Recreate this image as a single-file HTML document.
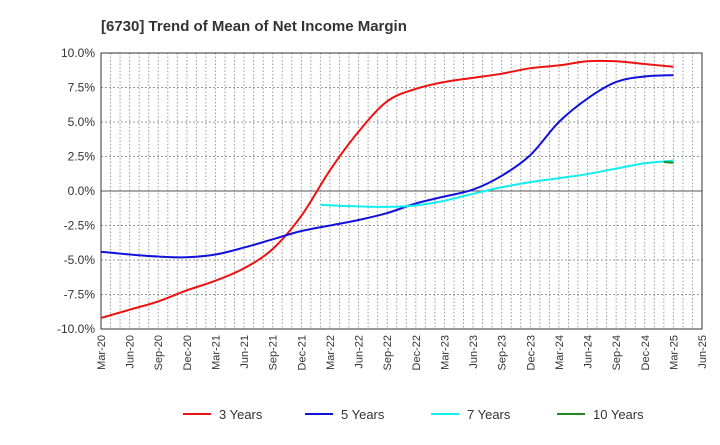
<!DOCTYPE html>
<html><head><meta charset="utf-8"><style>
body{margin:0;background:#fff;font-family:"Liberation Sans",sans-serif}
</style></head><body>
<svg width="720" height="440" xmlns="http://www.w3.org/2000/svg">
<text x="101" y="31" font-size="15" font-weight="bold" fill="#333">[6730]  Trend of Mean of Net Income Margin</text>
<g id="grid"></g><g id="axes"></g><g id="series"></g><g id="legend"></g>
</svg>
<script>
const xLabels=["Mar-20","Jun-20","Sep-20","Dec-20","Mar-21","Jun-21","Sep-21","Dec-21","Mar-22","Jun-22","Sep-22","Dec-22","Mar-23","Jun-23","Sep-23","Dec-23","Mar-24","Jun-24","Sep-24","Dec-24","Mar-25","Jun-25"];
const yTicks=[10,7.5,5,2.5,0,-2.5,-5,-7.5,-10];
const s3=[-9.2,-8.6,-8.0,-7.2,-6.5,-5.6,-4.2,-1.8,1.5,4.3,6.5,7.4,7.9,8.2,8.5,8.9,9.1,9.4,9.4,9.2,9.0];
const s5=[-4.4,-4.6,-4.75,-4.8,-4.6,-4.1,-3.5,-2.9,-2.5,-2.1,-1.6,-0.9,-0.4,0.1,1.1,2.6,5.0,6.7,7.9,8.3,8.4];
const s7=[-1.0,-1.1,-1.15,-1.1,-0.8,-0.3,0.2,0.6,0.9,1.2,1.6,2.0,2.2];
const s7StartMonth=23;
const s7EndMonth=60;
const s10=[2.1,2.05];
const s10StartMonth=59;
const L=101,R=702,T=53,B=329,months=63;
const xm=m=>L+(R-L)*m/months;
const y=v=>T+(B-T)*(10-v)/20;
const NS="http://www.w3.org/2000/svg";
function mk(p,t,a){const e=document.createElementNS(NS,t);for(const k in a)e.setAttribute(k,a[k]);document.getElementById(p).appendChild(e);return e;}
for(let m=1;m<months;m++){const l=mk('grid','line',{x1:xm(m),x2:xm(m),y1:T,y2:B,stroke:'#999','stroke-dasharray':'1.5,2','stroke-width':1});

}
yTicks.forEach(v=>{if(v!==10&&v!==-10){const l=mk('grid','line',{x1:L,x2:R,y1:y(v),y2:y(v),stroke:v===0?'#555':'#999','stroke-dasharray':v===0?'':'2,2','stroke-width':1});

}
const t=mk('axes','text',{x:L-6,y:y(v)+4,'text-anchor':'end','font-size':12,fill:'#333'});t.textContent=v.toFixed(1)+'%';

});
const fr=mk('axes','rect',{x:L,y:T,width:R-L,height:B-T,fill:'none',stroke:'#333','stroke-width':1});


xLabels.forEach((s,i)=>{const x=xm(i*3);const t=mk('axes','text',{x:x+4,y:B+6,'text-anchor':'end','font-size':11,fill:'#333',transform:`rotate(-90 ${x+4} ${B+6})`});t.textContent=s;

});
function path(pts){let d=`M${pts[0][0]},${pts[0][1]}`;for(let i=0;i<pts.length-1;i++){const p0=pts[i-1]||pts[i],p1=pts[i],p2=pts[i+1],p3=pts[i+2]||p2;
d+=` C${p1[0]+(p2[0]-p0[0])/6},${p1[1]+(p2[1]-p0[1])/6} ${p2[0]-(p3[0]-p1[0])/6},${p2[1]-(p3[1]-p1[1])/6} ${p2[0]},${p2[1]}`;}return d;}
function line(vals,startMonth,step,color,name){const pts=vals.map((v,i)=>[xm(startMonth+i*step),y(v)]);const p=mk('series','path',{d:path(pts),fill:'none',stroke:color,'stroke-width':2});

}
line(s3,0,3,'#ee1111','line-3-years');
line(s5,0,3,'#1111dd','line-5-years');
line(s7,s7StartMonth,(s7EndMonth-s7StartMonth)/(s7.length-1),'#11eeee','line-7-years');
line(s10,s10StartMonth,1,'#228822','line-10-years');
[['3 Years','#ee1111',183],['5 Years','#1111dd',305],['7 Years','#11eeee',431],['10 Years','#228822',557]].forEach(([n,c,x])=>{
const g=mk('legend','g',{});


const l=document.createElementNS(NS,'line');l.setAttribute('x1',x);l.setAttribute('x2',x+28);l.setAttribute('y1',414);l.setAttribute('y2',414);l.setAttribute('stroke',c);l.setAttribute('stroke-width',2);g.appendChild(l);
const t=document.createElementNS(NS,'text');t.setAttribute('x',x+36);t.setAttribute('y',419);t.setAttribute('font-size',13);t.setAttribute('fill','#333');t.textContent=n;g.appendChild(t);});
</script>
</body></html>
